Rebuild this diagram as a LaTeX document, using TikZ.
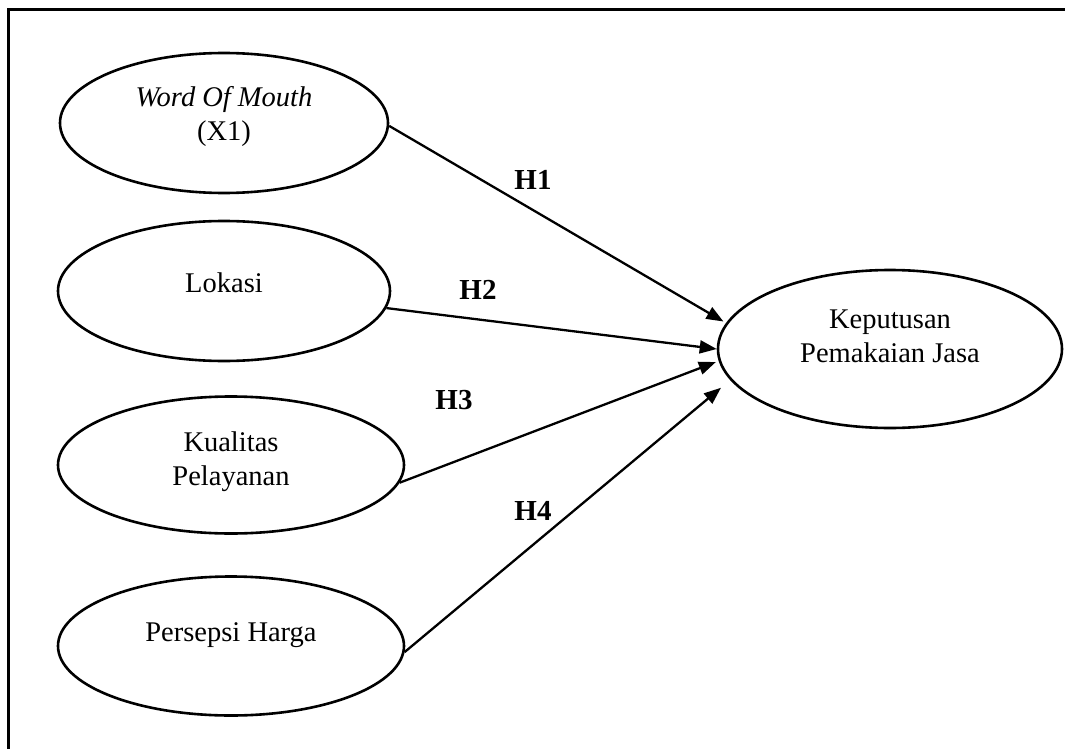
\documentclass[tikz,border=0pt]{standalone}
\usepackage{fontspec}
\setmainfont{Liberation Serif}
\usetikzlibrary{arrows.meta,shapes.geometric}
\begin{document}
\begin{tikzpicture}[x=1pt,y=-1pt,
  el/.style={draw, ellipse, line width=2.6pt, inner sep=0pt},
  txt/.style={font=\fontsize{28.5}{34}\selectfont, align=center, inner sep=0pt},
  hyp/.style={font=\fontsize{29}{34}\selectfont\bfseries, inner sep=0pt},
  conn/.style={line width=2.3pt, -{Triangle[length=17pt,width=13pt]}},
]
\useasboundingbox (0,0) rectangle (1065,749);
\draw[line width=2.7pt] (8.7,749) |- (1065,9.7);

\node[el, minimum width=328pt, minimum height=140pt,
  label={[txt,yshift=7pt]center:{\textit{Word Of Mouth}\\(X1)}}] (wom) at (224,123) {};
\node[el, minimum width=332pt, minimum height=140pt,
  label={[txt,yshift=8pt]center:{Lokasi}}] (lok) at (224,291) {};
\node[el, minimum width=346pt, minimum height=137pt,
  label={[txt,yshift=3pt]center:{Kualitas\\Pelayanan}}] (kual) at (231,465) {};
\node[el, minimum width=346pt, minimum height=139pt,
  label={[txt,yshift=11pt]center:{Persepsi Harga}}] (pers) at (231,646) {};
\node[el, minimum width=344pt, minimum height=158pt,
  label={[txt,yshift=13pt]center:{Keputusan\\Pemakaian Jasa}}] (kep) at (890,349) {};

\draw[conn, shorten >=3pt] (wom.-1) -- (kep.171.8);
\draw[conn] (lok.-6) -- (kep.180);
\draw[conn, shorten >=3pt] (kual.-6.8) -- (kep.184.3);
\draw[conn, shorten >=12pt] (pers.-2.3) -- (kep.191.4);

\node[hyp] (h1) at (533,180) {H1};
\node[hyp] (h2) at (478,290) {H2};
\node[hyp] (h3) at (454,400) {H3};
\node[hyp] (h4) at (533,511) {H4};
\end{tikzpicture}
\end{document}
